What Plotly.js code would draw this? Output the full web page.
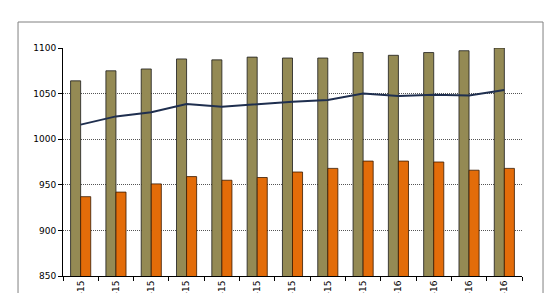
<!DOCTYPE html>
<html>
<head>
<meta charset="utf-8">
<script src="https://cdn.plot.ly/plotly-3.0.1.min.js"></script>
<style>html,body{margin:0;padding:0;background:#fff;}#chart{width:560px;height:293px;}</style>
</head>
<body>
<div id="chart"></div>
<script>
var months = ["Apr-15","May-15","Jun-15","Jul-15","Aug-15","Sep-15","Oct-15","Nov-15","Dec-15","Jan-16","Feb-16","Mar-16","Apr-16"];
var seriesOlive = [1064, 1075, 1077, 1088, 1087, 1090, 1089, 1089, 1095, 1092, 1095, 1097, 1100];
var seriesOrange = [937, 942, 951, 959, 955, 958, 964, 968, 976, 976, 975, 966, 968];
var seriesLine = [1016, 1025, 1029.5, 1038.5, 1035.7, 1038.6, 1041, 1043, 1050, 1047.4, 1048.7, 1048, 1054];
var yTicks = [850, 900, 950, 1000, 1050, 1100];

var traces = [
  {type:'bar', x:months, y:seriesOlive, name:'Series 1',
   marker:{color:'#948A54', line:{color:'#1a1a1a', width:0.8}}},
  {type:'bar', x:months, y:seriesOrange, name:'Series 2',
   marker:{color:'#E36C09', line:{color:'#3a1a00', width:0.8}}},
  {type:'scatter', mode:'lines', x:months, y:seriesLine, name:'Series 3',
   line:{color:'#1F2F4F', width:2}}
];

var layout = {
  width:560, height:293,
  margin:{l:63, r:38, t:48, b:17},
  paper_bgcolor:'#fff', plot_bgcolor:'#fff',
  showlegend:false,
  barmode:'group', bargap:0.43, bargroupgap:0,
  font:{family:'DejaVu Sans, Verdana, sans-serif', size:9, color:'#000'},
  xaxis:{type:'category', tickangle:-90, tickson:'boundaries',
    ticks:'outside', ticklen:4, tickcolor:'#000',
    showline:true, linecolor:'#000', linewidth:1,
    showgrid:false, zeroline:false,
    tickfont:{size:9, family:'DejaVu Sans, Verdana, sans-serif'}},
  yaxis:{range:[850,1100], tickvals:yTicks, ticktext:yTicks.map(String),
    ticks:'outside', ticklen:4, tickcolor:'#000',
    showline:true, linecolor:'#000', linewidth:1,
    showgrid:true, gridcolor:'#555', griddash:'1px,1px', gridwidth:1,
    zeroline:false,
    tickfont:{size:9, family:'DejaVu Sans, Verdana, sans-serif'}},
  shapes:[
    {type:'rect', xref:'paper', yref:'paper', x0:-0.098, x1:1.0458, y0:-0.3, y1:1.114,
     line:{color:'#808080', width:1}, fillcolor:'rgba(0,0,0,0)', layer:'below'}
  ]
};

Plotly.newPlot('chart', traces, layout, {displayModeBar:false, staticPlot:true});
</script>
</body>
</html>
